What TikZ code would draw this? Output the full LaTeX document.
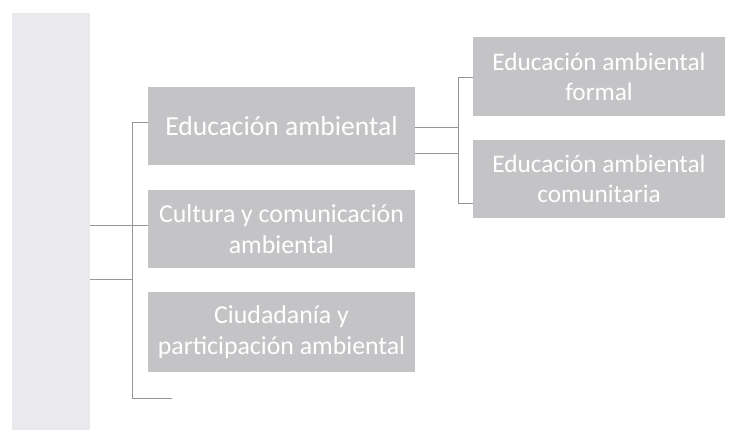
\documentclass[tikz,border=0pt]{standalone}
\usepackage{fontspec}
\setmainfont{Carlito}
\definecolor{cajagris}{RGB}{196,196,199}
\definecolor{franja}{RGB}{234,234,238}
\definecolor{linea}{RGB}{150,150,150}
\begin{document}
\begin{tikzpicture}[x=0.02cm, y=0.02cm,
    caja/.style={fill=cajagris, text=white, align=center, inner sep=0pt,
      minimum width=5.34cm, minimum height=1.56cm,
      font=\fontsize{14.7}{17.5}\selectfont},
    subcaja/.style={caja, minimum width=5.04cm, minimum height=1.58cm,
      font=\fontsize{14.4}{17}\selectfont},
    rama/.style={draw=linea, line width=0.4pt}]
  \useasboundingbox (0,0) rectangle (735,439);
  % franja lateral
  \node[fill=franja, inner sep=0pt, minimum width=1.56cm, minimum height=8.34cm] (raiz) at (51,217.5) {};
  % cajas principales
  \node[caja, font=\fontsize{15.7}{18}\selectfont] (edu) at (281.5,313) {Educación ambiental};
  \node[caja] (cul) at (281.5,210) {Cultura y comunicación\\ambiental};
  \node[caja, minimum height=1.6cm] (ciu) at (281.5,107) {Ciudadanía y\\participación ambiental};
  % subcajas
  \node[subcaja] (formal) at (599,362) {Educación ambiental\\formal};
  \node[subcaja] (comun) at (599,260) {Educación ambiental\\comunitaria};
  \coordinate (pie) at (172,41);
  % llave izquierda
  \draw[rama] (raiz.east |- 0,214) -- (cul.west |- 0,214);
  \draw[rama] (raiz.east |- 0,160) -- (132,160);
  \draw[rama] (edu.west |- 0,317) -| (132,41) -- (pie);
  % llave derecha
  \draw[rama] (edu.east |- 0,312) -- (458,312);
  \draw[rama] (edu.east |- 0,286) -- (458,286);
  \draw[rama] (formal.west) -| (458,236) -- (comun.west |- 0,236);
\end{tikzpicture}
\end{document}
